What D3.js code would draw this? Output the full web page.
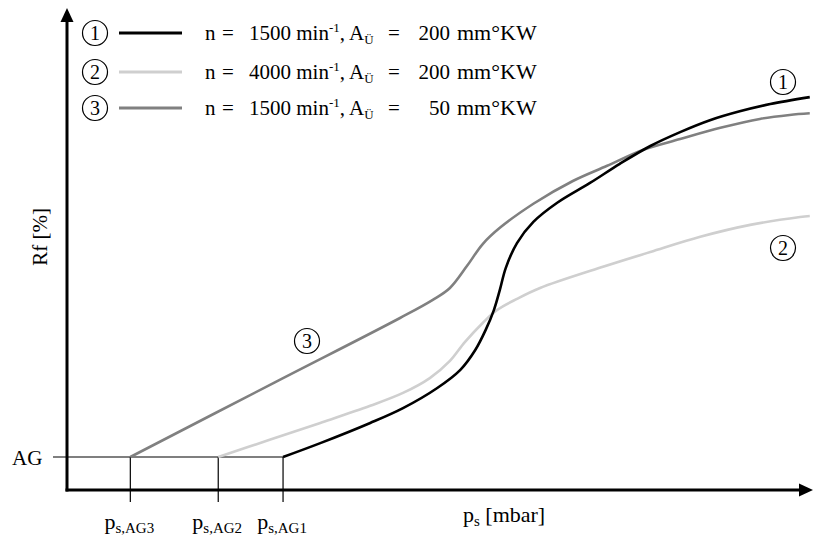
<!DOCTYPE html>
<html>
<head>
<meta charset="utf-8">
<script src="https://cdn.jsdelivr.net/npm/d3@7/dist/d3.min.js"></script>
<style>
  html, body { margin: 0; padding: 0; background: #fff; }
  svg { display: block; }
  svg text { font-family: "Liberation Serif", "DejaVu Serif", serif; white-space: pre; }
</style>
</head>
<body>
<svg id="chart" width="813" height="538"></svg>
<script>
// Charge-pressure curves: residual gas fraction Rf over intake pressure p_s
const seriesIds = ["1", "2", "3"];
const seriesSpeed = ["1500", "4000", "1500"];
const seriesOverlap = ["200", "200", "50"];
const seriesColors = ["#000000", "#cfcfcf", "#808080"];

// p_s (relative units) and Rf (relative units) for each operating point
const ps1 = [29.0, 34.0, 40.7, 45.1, 49.7, 52.8, 54.8, 56.2, 57.3, 58.1, 58.9, 60.4, 62.6, 65.8, 70.2, 74.2, 78.3, 82.3, 86.3, 90.3, 94.4, 99.7];
const rf1 = [10.0, 14.2, 20.3, 24.8, 30.9, 36.4, 42.4, 48.5, 54.5, 60.6, 67.3, 74.8, 81.2, 87.0, 93.0, 98.8, 104.2, 108.4, 112.0, 114.7, 116.9, 119.0];

const ps2 = [20.3, 27.2, 34.0, 40.7, 45.1, 48.7, 51.4, 53.4, 55.8, 57.7, 60.4, 63.5, 71.5, 78.3, 85.0, 91.7, 98.4, 99.7];
const rf2 = [10.0, 15.2, 20.3, 25.5, 29.4, 33.9, 39.1, 44.8, 50.6, 54.5, 57.9, 61.2, 67.3, 72.1, 76.7, 80.3, 82.7, 83.0];

const ps3 = [8.5, 27.9, 44.7, 49.1, 51.4, 53.7, 55.8, 58.1, 62.6, 67.9, 72.5, 77.3, 82.3, 87.7, 93.0, 97.0, 99.7];
const rf3 = [10.0, 32.6, 52.1, 57.6, 61.2, 67.9, 74.5, 79.4, 86.7, 93.6, 98.2, 103.0, 106.3, 109.7, 112.4, 113.6, 114.1];

// Threshold level AG and the pressures at which each curve leaves it
const agLevel = 10;
const psAG = [8.5, 20.3, 29.0];
const psAGLabels = ["AG3", "AG2", "AG1"];

const svg = d3.select("#chart");
const x = d3.scaleLinear().domain([0, 100]).range([67, 812]);
const y = d3.scaleLinear().domain([0, 146]).range([490, 8]);

const series = [
  { ps: ps1, rf: rf1 },
  { ps: ps2, rf: rf2 },
  { ps: ps3, rf: rf3 }
];

// AG guide line and tick marks
const gy = y(agLevel);
svg.append("line")
  .attr("x1", 53).attr("x2", x(d3.max(psAG))).attr("y1", gy).attr("y2", gy)
  .attr("stroke", "#000").attr("stroke-width", 1.2);
svg.append("text").attr("x", 12).attr("y", gy + 8)
  .attr("font-size", 21).text("AG");

psAG.forEach((v, i) => {
  svg.append("line")
    .attr("x1", x(v)).attr("x2", x(v)).attr("y1", gy).attr("y2", 502)
    .attr("stroke", "#000").attr("stroke-width", 1.2);
  const t = svg.append("text").attr("x", x(v) - 1).attr("y", 529)
    .attr("text-anchor", "middle").attr("font-size", 22);
  t.append("tspan").text("p");
  t.append("tspan").attr("font-size", 15).attr("dy", 4).text("s," + psAGLabels[i]);
});

// Curves
const line = d3.line()
  .x((d) => x(d[0]))
  .y((d) => y(d[1]))
  .curve(d3.curveCatmullRom.alpha(0.5));

[1, 2, 0].forEach((k) => {
  const s = series[k];
  svg.append("path")
    .datum(s.ps.map((p, i) => [p, s.rf[i]]))
    .attr("fill", "none")
    .attr("stroke", seriesColors[k])
    .attr("stroke-width", 2.6)
    .attr("stroke-linejoin", "round")
    .attr("d", line);
});

// Axes with arrowheads
svg.append("line").attr("x1", x(0)).attr("x2", x(0)).attr("y1", y(0) + 1.5).attr("y2", 20)
  .attr("stroke", "#000").attr("stroke-width", 3);
svg.append("path").attr("d", `M${x(0)},8 L${x(0) - 6.5},22 L${x(0) + 6.5},22 Z`).attr("fill", "#000");
svg.append("line").attr("x1", x(0) - 1.5).attr("x2", 801).attr("y1", y(0)).attr("y2", y(0))
  .attr("stroke", "#000").attr("stroke-width", 3);
svg.append("path").attr("d", `M813,${y(0)} L799,${y(0) - 6.5} L799,${y(0) + 6.5} Z`).attr("fill", "#000");

// Axis titles
svg.append("text")
  .attr("transform", "translate(47,237) rotate(-90)")
  .attr("text-anchor", "middle").attr("font-size", 21)
  .text("Rf [%]");
const xt = svg.append("text").attr("x", 463).attr("y", 522).attr("font-size", 22);
xt.append("tspan").text("p");
xt.append("tspan").attr("font-size", 15).attr("dy", 4).text("s");
xt.append("tspan").attr("dy", -4).text(" [mbar]");

// Circled series numbers
function circled(cx, cy, label) {
  svg.append("circle").attr("cx", cx).attr("cy", cy).attr("r", 12.5)
    .attr("fill", "none").attr("stroke", "#000").attr("stroke-width", 1.2);
  svg.append("text").attr("x", cx).attr("y", cy + 7)
    .attr("text-anchor", "middle").attr("font-size", 20).text(label);
}
circled(783, 82, seriesIds[0]);
circled(783, 248, seriesIds[1]);
circled(307, 341, seriesIds[2]);

// Legend
const legendRows = [33, 72, 108];
seriesIds.forEach((id, i) => {
  const cy = legendRows[i];
  const base = cy + 7;
  circled(95, cy, id);
  svg.append("line").attr("x1", 119).attr("x2", 182).attr("y1", cy).attr("y2", cy)
    .attr("stroke", seriesColors[i]).attr("stroke-width", 3);
  const g = svg.append("g").attr("font-size", 21);
  g.append("text").attr("x", 205).attr("y", base).text("n");
  g.append("text").attr("x", 222).attr("y", base).text("=");
  const t = g.append("text").attr("x", 249).attr("y", base);
  t.append("tspan").text(seriesSpeed[i] + " min");
  t.append("tspan").attr("font-size", 13).attr("dy", -8).text("-1");
  t.append("tspan").attr("dy", 8).text(", A");
  t.append("tspan").attr("font-size", 13).attr("dy", 4).text("Ü");
  g.append("text").attr("x", 388).attr("y", base).text("=");
  g.append("text").attr("x", 450).attr("y", base)
    .attr("text-anchor", "end").text(seriesOverlap[i]);
  g.append("text").attr("x", 457).attr("y", base).attr("font-size", 22).text("mm°KW");
});
</script>
</body>
</html>
